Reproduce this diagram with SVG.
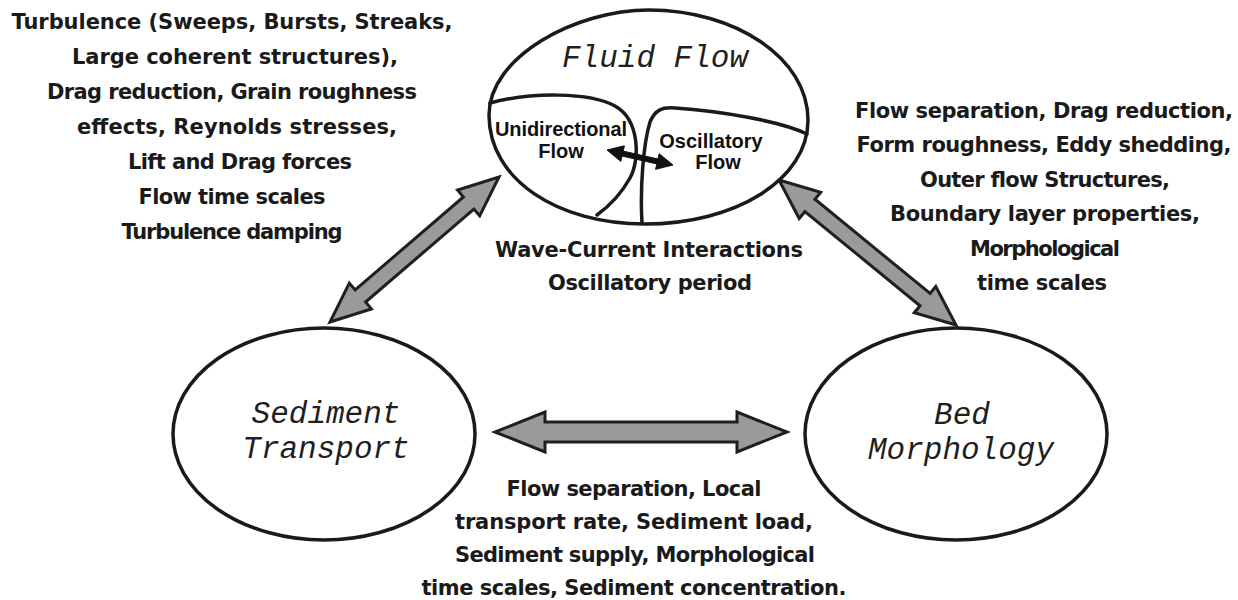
<svg xmlns="http://www.w3.org/2000/svg" width="1238" height="600" viewBox="0 0 1238 600">
  <style>
    .node { fill: #ffffff; stroke: #1a1a1a; stroke-width: 3.5; }
    .inner { fill: none; stroke: #1a1a1a; stroke-width: 3.5; stroke-linecap: round; }
    .title { font-family: "Liberation Mono", "Courier New", monospace; font-style: italic; font-size: 31px; fill: #1f1f1f; text-anchor: middle; }
    .sub { font-family: "Liberation Sans", Arial, sans-serif; font-weight: bold; font-size: 20px; fill: #111; text-anchor: middle; }
    .note { font-family: "DejaVu Sans", "Liberation Sans", sans-serif; font-weight: bold; font-size: 21px; fill: #1a1a1a; text-anchor: middle; }
    .big { fill: #9a9a9a; stroke: #1f1f1f; stroke-width: 3; stroke-linejoin: miter; }
    .small { fill: #111; stroke: #111; stroke-width: 1; stroke-linejoin: round; }
  </style>

  <g id="connectors">
    <polygon class="big" points="330,322 371.4,308.9 365.6,302 473.9,209.1 479.7,215.9 499,177 457.6,190.1 463.4,197 355.2,289.9 349.3,283.1"/>
    <polygon class="big" points="779,180 799.2,218.5 804.9,211.5 920,305.8 914.3,312.8 956,325 935.8,286.5 930.1,293.5 815,199.2 820.7,192.2"/>
    <polygon class="big" points="495,432 545,452 545,442 737,442 737,452 787,432 737,412 737,422 545,422 545,412"/>
  </g>

  <g id="fluid-flow">
    <path class="node" d="M 489,115 C 489,57 575,10 649,10 C 735,10 808,58 808,120 C 808,180 735,224 645,224 C 558,224 489,180 489,115 Z"/>
    <path class="inner" d="M 490,103 C 530,92 590,92 615,106 C 640,120 640,160 630,178 C 620,196 608,207 597,215"/>
    <path class="inner" d="M 642,223 C 640,190 643,145 650,122 C 655,110 662,107 675,108 C 720,111 780,121 807,134"/>
    <text class="title" x="655" y="67">Fluid Flow</text>
    <text class="sub" x="561" y="136" textLength="132">Unidirectional</text>
    <text class="sub" x="561" y="158">Flow</text>
    <text class="sub" x="711" y="148">Oscillatory</text>
    <text class="sub" x="718" y="169">Flow</text>
    <polygon class="small" points="607,150 620.8,161.4 622,156 656.8,163.9 655.6,169.3 673,165 659.2,153.7 658,159 623.2,151.1 624.4,145.8"/>
  </g>

  <g id="sediment-transport">
    <ellipse class="node" cx="324" cy="434" rx="151" ry="106"/>
    <text class="title" x="326" y="423">Sediment</text>
    <text class="title" x="326" y="458">Transport</text>
  </g>

  <g id="bed-morphology">
    <ellipse class="node" cx="956" cy="434" rx="151" ry="106"/>
    <text class="title" x="962" y="424">Bed</text>
    <text class="title" x="961" y="459">Morphology</text>
  </g>

  <g id="label-fluid-sediment">
    <text class="note" x="232" y="29" textLength="441">Turbulence (Sweeps, Bursts, Streaks,</text>
    <text class="note" x="235" y="64" textLength="326">Large coherent structures),</text>
    <text class="note" x="232" y="99" textLength="370">Drag reduction, Grain roughness</text>
    <text class="note" x="237" y="134" textLength="320">effects, Reynolds stresses,</text>
    <text class="note" x="240" y="169" textLength="224">Lift and Drag forces</text>
    <text class="note" x="232" y="204" textLength="187">Flow time scales</text>
    <text class="note" x="232" y="239" textLength="221">Turbulence damping</text>
  </g>

  <g id="label-fluid-bed">
    <text class="note" x="1044" y="118" textLength="378">Flow separation, Drag reduction,</text>
    <text class="note" x="1044" y="152" textLength="375">Form roughness, Eddy shedding,</text>
    <text class="note" x="1045" y="187" textLength="250">Outer flow Structures,</text>
    <text class="note" x="1045" y="221" textLength="310">Boundary layer properties,</text>
    <text class="note" x="1045" y="256" textLength="150">Morphological</text>
    <text class="note" x="1042" y="290" textLength="130">time scales</text>
  </g>

  <g id="label-wave-current">
    <text class="note" x="649" y="257" textLength="308">Wave-Current Interactions</text>
    <text class="note" x="650" y="290" textLength="204">Oscillatory period</text>
  </g>

  <g id="label-sediment-bed">
    <text class="note" x="634" y="496" textLength="255">Flow separation, Local</text>
    <text class="note" x="634" y="529" textLength="358">transport rate, Sediment load,</text>
    <text class="note" x="635" y="562" textLength="360">Sediment supply, Morphological</text>
    <text class="note" x="634" y="595" textLength="425">time scales, Sediment concentration.</text>
  </g>
</svg>
